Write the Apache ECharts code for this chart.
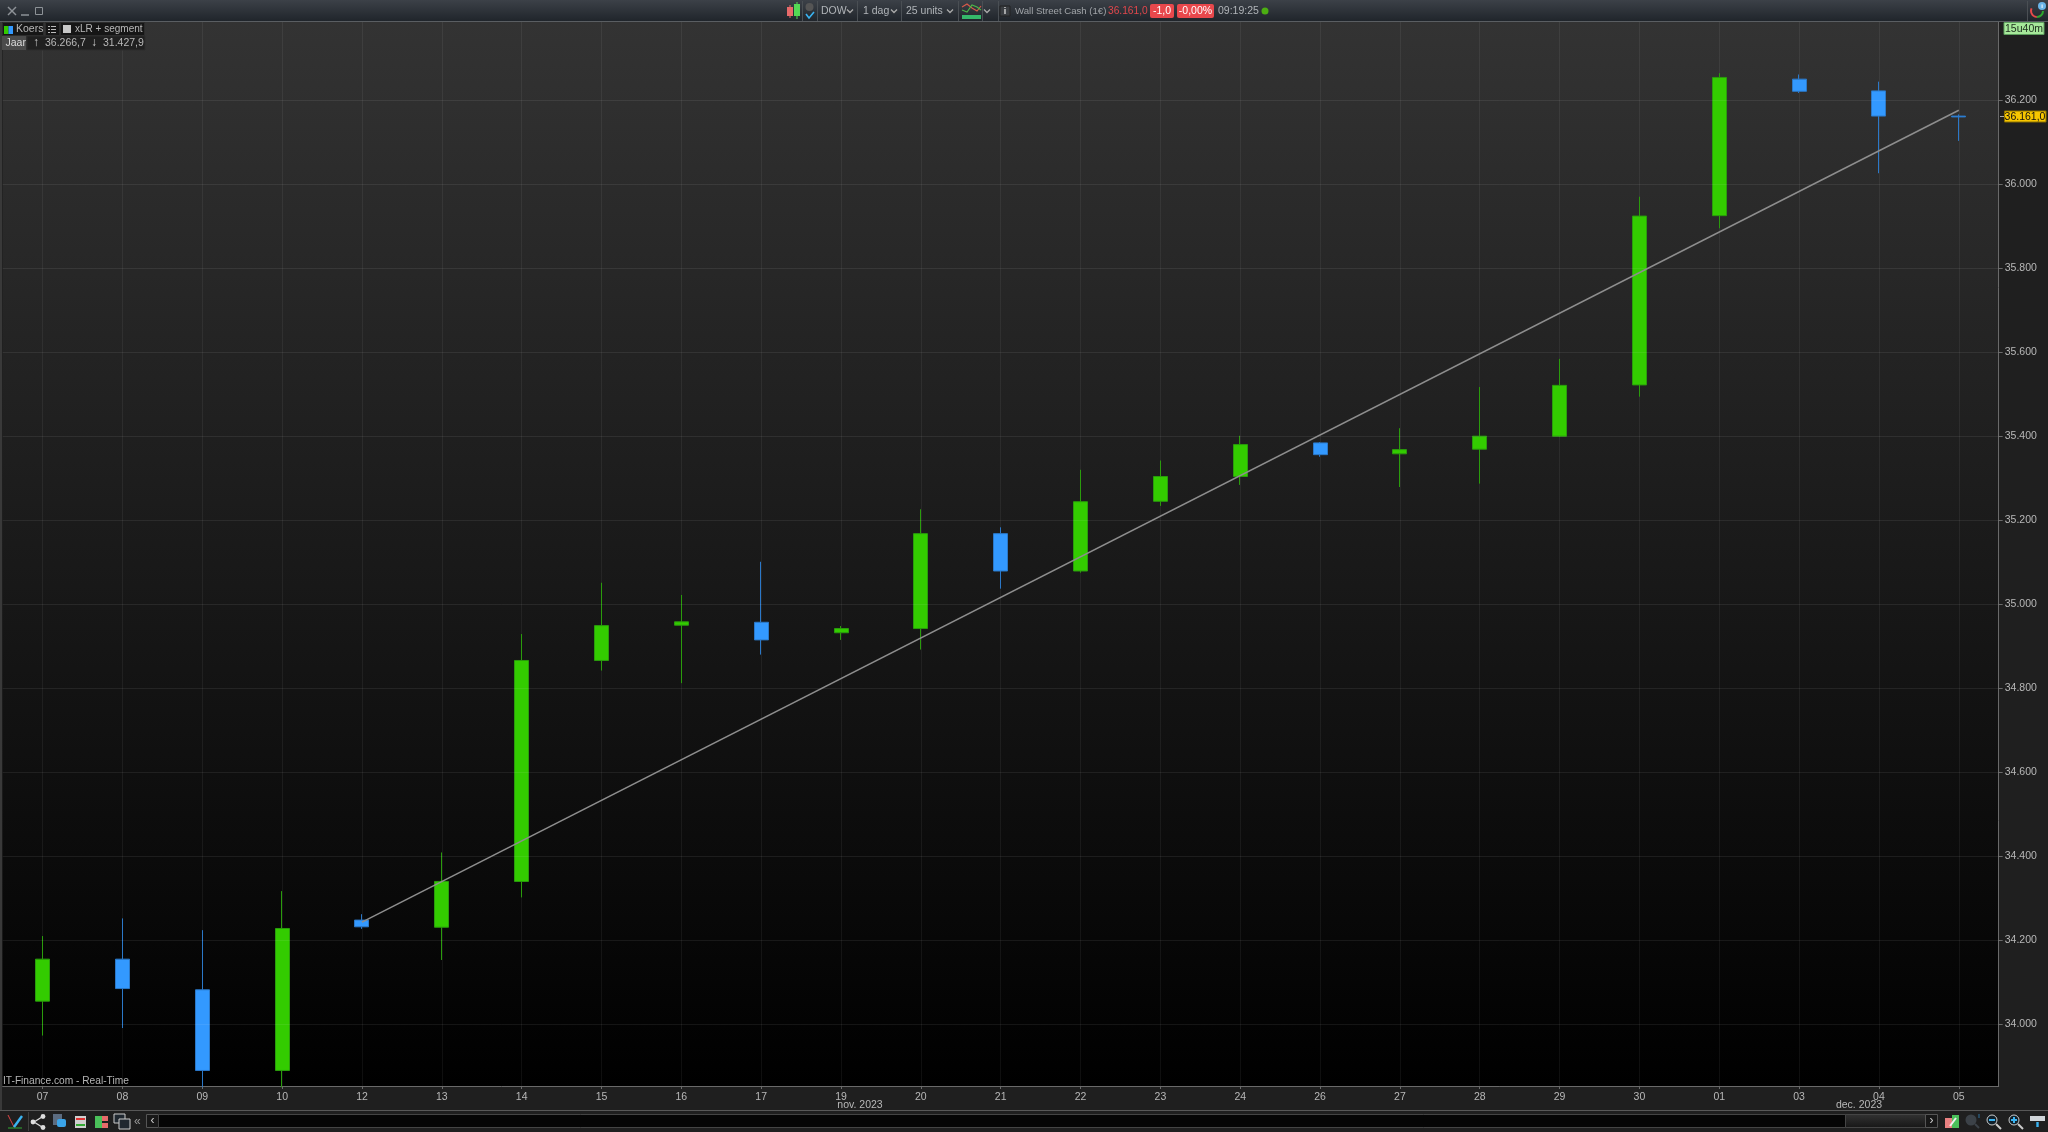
<!DOCTYPE html>
<html>
<head>
<meta charset="utf-8">
<style>html,body{margin:0;padding:0;background:#1f1f1f}#c{width:2048px;height:1132px}</style>
<script src="https://cdn.jsdelivr.net/npm/echarts@6/dist/echarts.min.js"></script>
</head>
<body>
<div id="c"></div>
<script>
const categories = ['07','08','09','10','12','13','14','15','16','17','19','20','21','22','23','24','26','27','28','29','30','01','03','04','05'];
const opens  = [34055,34155,34082,33890,34248,34231,34340,34866,34950,34957,34932,34942,35168,35079,35245,35304,35384,35358,35369,35400,35522,35925,36250,36222,36162];
const closes = [34155,34085,33890,34228,34232,34340,34866,34949,34958,34915,34942,35168,35079,35244,35304,35380,35356,35368,35400,35521,35924,36254,36221,36162,36160];
const lows   = [33973,33991,33850,33850,34227,34153,34302,34842,34812,34880,34915,34892,35037,35075,35234,35284,35351,35279,35287,35398,35494,35895,36217,36026,36103];
const highs  = [34210,34252,34224,34317,34262,34409,34929,35051,35022,35101,34948,35226,35183,35320,35342,35401,35386,35419,35517,35584,35970,36264,36261,36244,36166];
const xlr    = [null,null,null,null,34243,null,null,null,null,null,null,null,null,null,null,null,null,null,null,null,null,null,null,null,36176];
const yTicks = [34000,34200,34400,34600,34800,35000,35200,35400,35600,35800,36000,36200];

const FONT = '"Liberation Sans", sans-serif';
const TXT = '#b8b8b8';
const el = [];
const Z = 60;
function rect(x,y,w,h,fill,stroke,r){el.push({type:'rect',z:Z,silent:true,shape:{x,y,width:w,height:h,r:r||0},style:{fill:fill||'none',stroke:stroke||'none',lineWidth:1}});}
function text(x,y,t,fill,size,align,weight){el.push({type:'text',z:Z+1,silent:true,x,y,style:{text:t,fill:fill||TXT,font:(weight||'normal')+' '+(size||10.5)+'px '+FONT,align:align||'left',verticalAlign:'middle'}});}
function line(x1,y1,x2,y2,c,w){el.push({type:'line',z:Z,silent:true,shape:{x1,y1,x2,y2},style:{stroke:c,lineWidth:w||1}});}
function dot(cx,cy,r,fill){el.push({type:'circle',z:Z,silent:true,shape:{cx,cy,r},style:{fill}});}
function chev(x,y,c){el.push({type:'polyline',z:Z+1,silent:true,shape:{points:[[x-3,y-1.5],[x,y+1.5],[x+3,y-1.5]]},style:{stroke:c||'#aaa',lineWidth:1.3,fill:'none'}});}

// top toolbar
el.push({type:'rect',z:Z,silent:true,shape:{x:0,y:0,width:2048,height:21},style:{fill:new echarts.graphic.LinearGradient(0,0,0,1,[{offset:0,color:'#3c4148'},{offset:1,color:'#20252b'}])}});
line(0,21.5,2048,21.5,'#5a5e62');
// window buttons
line(8,7,16,15,'#8d9297',1.5);line(16,7,8,15,'#8d9297',1.5);
line(21,15,29,15,'#8d9297',1.5);
rect(35.5,7.5,7,7,'none','#8d9297');
// chart icon
rect(787,7,6,9,'#e86a6a');line(790,5,790,18,'#e86a6a');
rect(794,4,6,12,'#55d855');line(797,2,797,19,'#55d855');
[802,817,857,901,958,982,998].forEach(x=>line(x+.5,1,x+.5,21,'#4a4f54'));
dot(809.5,7,4,'#555');
el.push({type:'polyline',z:Z,silent:true,shape:{points:[[806,14],[809,18],[814,12]]},style:{stroke:'#3ab4f2',lineWidth:1.6,fill:'none'}});
text(821,11.5,'DOW','#b0b4b8');chev(850,11);
text(863,11.5,'1 dag','#b0b4b8');chev(894,11);
text(906,11.5,'25 units','#b0b4b8');chev(950,11);
// indicator icon
el.push({type:'polyline',z:Z,silent:true,shape:{points:[[962,7],[967,4],[972,8],[977,11],[981,6]]},style:{stroke:'#d85a4a',lineWidth:1.2,fill:'none'}});
el.push({type:'polyline',z:Z,silent:true,shape:{points:[[962,10],[967,12],[972,5],[977,7],[981,10]]},style:{stroke:'#4ab84a',lineWidth:1.2,fill:'none'}});
rect(962,15,19,4,'#35b86a');
chev(987,11);
rect(1000,6,10,10,'#3b3e42','#222');text(1005,11.5,'i','#ddd',9,'center','bold');
text(1015,11.5,'Wall Street Cash (1€)','#a0a4a8',9.6);
text(1108,11.5,'36.161,0','#e0474c',10.2);
rect(1150,4,24,14,'#e8484c',null,2);text(1162,11.5,'-1,0','#fff',10.5,'center');
rect(1177,4,37,14,'#e8484c',null,2);text(1195.5,11.5,'-0,00%','#fff',10.5,'center');
text(1218,11.5,'09:19:25','#b0b4b8');
dot(1265,11,3.5,'#4cae12');
// top right refresh icon
line(2027.5,1,2027.5,21,'#4a4f54');
el.push({type:'arc',z:Z,silent:true,shape:{cx:2037,cy:11,r:6,startAngle:1.6,endAngle:3.6},style:{stroke:'#e84a4a',lineWidth:2,fill:'none'}});
el.push({type:'arc',z:Z,silent:true,shape:{cx:2037,cy:11,r:6,startAngle:0,endAngle:1.6},style:{stroke:'#2ea82e',lineWidth:2,fill:'none'}});
dot(2042,6,4,'#6ab4e8');text(2042,6.5,'i','#fff',6,'center','bold');

// legend boxes
rect(2.5,22.5,41,13,'#161616','#2c2c2c');
rect(4,26,4.5,8,'#33cc00');rect(8.5,26,4.5,8,'#3399ff');
text(16,29.5,'Koers',TXT);
rect(45.5,22.5,14,13,'#161616','#2c2c2c');
[26,29,32].forEach(y=>{line(48,y+.5,50,y+.5,'#bbb');line(51,y+.5,56,y+.5,'#bbb');});
rect(60.5,22.5,84,13,'#161616','#2c2c2c');
rect(63,25,8,8,'#c8c8c8');
text(75,29.5,'xLR + segment',TXT,10);
rect(2,36,24,14,'#4b4b4b');
text(5.5,43.5,'Jaar','#ddd');
rect(27,36,118,14,'#202020','#2c2c2c');
text(36,43,'↑','#ccc',12,'center','bold');text(45,43.5,'36.266,7',TXT);
text(94,43,'↓','#ccc',12,'center','bold');text(103,43.5,'31.427,9',TXT);

// right side badges
rect(2004,22.5,40,12,'#a6e89a','#5e9e5e');
text(2024,29,'15u40m','#1c2c1c',10.5,'center');
line(2000,116.5,2004,116.5,'#aaa');
rect(2004.5,111,41.5,11,'#f7c600','#8a7000');
text(2025,117,'36.161,0','#111',10.5,'center');

// watermark
text(3,1081,'IT-Finance.com - Real-Time','#b5b5b5',10.2);

// month labels
text(860,1105.5,'nov. 2023',TXT,10.5,'center');
text(1859,1105.5,'dec. 2023',TXT,10.5,'center');

// left edge
line(1,22,1,1110,'#555');
// bottom toolbar
line(0,1110.5,2048,1110.5,'#585858');
rect(0,1111,2048,21,'#1f1f1f');
line(28.5,1112,28.5,1131,'#3e3e3e');
// bottom-left icons
line(8,1115,14,1127,'#d44');line(8,1128,22,1128,'#3a3');
line(14,1127,22,1116,'#3ab4f2',2.4);
line(34,1122,42,1117,'#ddd',1.4);line(34,1122,42,1127,'#ddd',1.4);dot(33,1122,2.4,'#ddd');dot(43,1116.5,2.4,'#ddd');dot(43,1127.5,2.4,'#ddd');
rect(53,1114,9,11,'#5c6c80');rect(57,1119,9,8,'#3aa4e8',null,2);
rect(75,1116,11,12,'#cfcfcf');line(76,1119,85,1119,'#d33',2);line(76,1125,85,1125,'#3a3',2);
rect(95,1116,7,12,'#4ac05a');rect(102,1116,6,5,'#e86a6a');rect(102,1123,6,5,'#e86a6a');
rect(114,1114,11,9,'#202830','#ccc');rect(119,1119,11,10,'#202830','#ccc');
text(134,1122,'«','#999',12);
rect(146.5,1114.5,12,13,'#181818','#555');text(152.5,1120.5,'‹','#ccc',12,'center');
rect(158.5,1114.5,1687,13,'#050505','#444');
el.push({type:'rect',z:Z,silent:true,shape:{x:1845.5,y:1114.5,width:80,height:13},style:{stroke:'#444',fill:new echarts.graphic.LinearGradient(0,0,0,1,[{offset:0,color:'#333'},{offset:1,color:'#161616'}])}});
rect(1925.5,1114.5,12,13,'#181818','#555');text(1931.5,1120.5,'›','#ccc',12,'center');
// bottom-right icons
rect(1945,1118,7,10,'#e88080');rect(1952,1115,7,13,'#4ac05a');line(1950,1126,1956,1118,'#eee',2);
dot(1971,1120,5.5,'#3c4248');line(1975,1124,1979,1128,'#3c4248',2);line(1979,1114,1979,1118,'#2a5a7a',1.4);
dot(1992,1120,5,'#182028');el[el.length-1].style={fill:'#10202a',stroke:'#ccc',lineWidth:1};line(1996,1124,2001,1129,'#ccc',2);line(1989,1120,1995,1120,'#3ab4f2',2);
dot(2014,1120,5,'#182028');el[el.length-1].style={fill:'#10202a',stroke:'#ccc',lineWidth:1};line(2018,1124,2023,1129,'#ccc',2);line(2011,1120,2017,1120,'#3ab4f2',2);line(2014,1117,2014,1123,'#3ab4f2',2);
rect(2030,1116,15,5,'#cfd4d8');line(2037.5,1122,2037.5,1127,'#3ab4f2',2.4);

const chart = echarts.init(document.getElementById('c'));
chart.setOption({
  animation:false,
  backgroundColor:'#1f1f1f',
  grid:{left:2.7,right:49.3,top:22,bottom:46,show:true,borderWidth:0,
    backgroundColor:new echarts.graphic.LinearGradient(0,0,0,1,[{offset:0,color:'#333333'},{offset:1,color:'#000000'}])},
  xAxis:{type:'category',data:categories,
    axisLine:{show:true,lineStyle:{color:'#6a6a6a'}},
    axisTick:{show:true,alignWithLabel:true,length:3,lineStyle:{color:'#6a6a6a'}},
    splitLine:{show:true,alignWithLabel:true,lineStyle:{color:'rgba(255,255,255,0.06)'}},
    axisLabel:{color:TXT,fontFamily:'"Liberation Sans"',fontSize:10.5,margin:6,interval:0}},
  yAxis:{type:'value',position:'right',min:33853,max:36386,
    axisLine:{show:true,lineStyle:{color:'#6a6a6a'}},
    axisTick:{show:true,length:4,customValues:yTicks,lineStyle:{color:'#6a6a6a'}},
    splitLine:{show:false},
    axisLabel:{color:TXT,fontFamily:'"Liberation Sans"',fontSize:10.5,margin:6,customValues:yTicks,
      formatter:v=>String(v).replace(/(\d)(\d{3})$/,'$1.$2')}},
  series:[
    {type:'line',data:[],z:1,silent:true,symbol:'none',
     markLine:{silent:true,symbol:'none',animation:false,label:{show:false},
       lineStyle:{type:'solid',width:1,color:'rgba(255,255,255,0.075)'},
       data:yTicks.map(v=>({yAxis:v}))}},
    {type:'candlestick',barWidth:14.5,clip:true,
     data:categories.map((c,i)=>[opens[i],closes[i],lows[i],highs[i]]),
     itemStyle:{color:'#33cc00',color0:'#3399ff',borderColor:'#2a9c0c',borderColor0:'#2b78c8',borderWidth:1}},
    {type:'line',data:xlr,connectNulls:true,showSymbol:false,symbol:'none',z:5,
     lineStyle:{color:'#8e8e8e',width:1.5}}
  ],
  graphic:{elements:el}
});
</script>
</body>
</html>
